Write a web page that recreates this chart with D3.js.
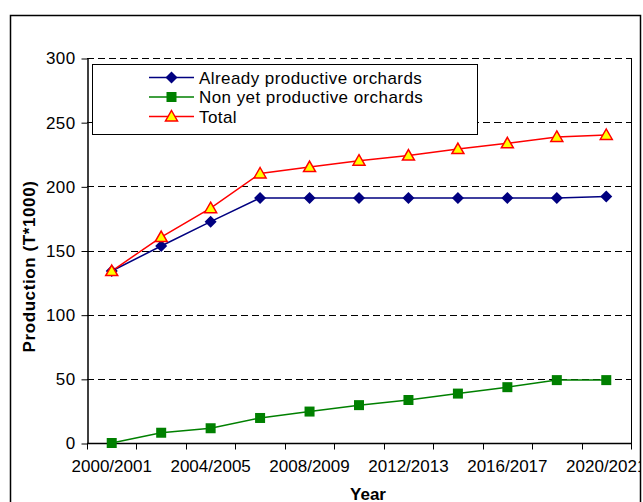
<!DOCTYPE html>
<html>
<head>
<meta charset="utf-8">
<script src="https://cdn.jsdelivr.net/npm/d3@7"></script>
<style>
  html, body { margin: 0; padding: 0; background: #fff; }
  svg { display: block; font-family: "Liberation Sans", Arial, sans-serif; }
</style>
</head>
<body>
<svg id="chart" width="643" height="502"></svg>
<script>
// Seasons on the category axis
const seasons = ["2000/2001", "2002/2003", "2004/2005", "2006/2007", "2008/2009", "2010/2011",
                 "2012/2013", "2014/2015", "2016/2017", "2018/2019", "2020/2021"];
// Production in thousands of tonnes
const alreadyProductive = [134, 153.5, 172.5, 191, 191, 191, 191, 191, 191, 191, 192];
const nonYetProductive  = [0, 8, 11.5, 19.5, 24.5, 29.5, 33.5, 38.5, 43.5, 49, 49];
const total             = [134, 160.5, 183, 210, 215, 220, 224, 229, 233.5, 238.5, 240];
const yTicks = [0, 50, 100, 150, 200, 250, 300];
const xLabelSeasons = ["2000/2001", "2004/2005", "2008/2009", "2012/2013", "2016/2017", "2020/2021"];
const seriesNames = ["Already productive orchards", "Non yet productive orchards", "Total"];

const svg = d3.select("#chart");
const plot = { left: 87, right: 631, top: 58, bottom: 443 };

// chart frame clipping
svg.append("defs").append("clipPath").attr("id", "frame")
  .append("rect").attr("x", 11).attr("y", 15).attr("width", 629.5).attr("height", 500);
const root = svg.append("g").attr("clip-path", "url(#frame)");

const x = d3.scaleBand().domain(seasons).range([plot.left, plot.right]).padding(0);
const xc = d => x(d) + x.bandwidth() / 2;
const y = d3.scaleLinear().domain([0, 300]).range([plot.bottom, plot.top]);

// dashed gridlines
root.append("g").selectAll("line").data(yTicks.filter(v => v > 0)).join("line")
  .attr("x1", plot.left).attr("x2", plot.right)
  .attr("y1", d => Math.round(y(d)) + 0.5).attr("y2", d => Math.round(y(d)) + 0.5)
  .attr("stroke", "#000").attr("stroke-width", 1).attr("stroke-dasharray", "7,4");

// right border of plot area
root.append("line")
  .attr("x1", plot.right + 0.5).attr("x2", plot.right + 0.5)
  .attr("y1", plot.top).attr("y2", plot.bottom)
  .attr("stroke", "#000").attr("stroke-width", 1);

// y axis
const yAxis = root.append("g").attr("transform", `translate(${plot.left + 0.5},0.5)`)
  .call(d3.axisLeft(y).tickValues(yTicks).tickSize(6).tickPadding(6).tickSizeOuter(0));
yAxis.select(".domain").attr("stroke", "#000").attr("stroke-width", 1.5);
yAxis.selectAll("text").attr("font-size", 17).attr("fill", "#000")
  .attr("letter-spacing", "0.4px")
  .attr("font-family", "'Liberation Sans', Arial, sans-serif");

// x axis: ticks at category boundaries
const xAxisG = root.append("g").attr("transform", `translate(0,${plot.bottom + 0.5})`);
xAxisG.append("line").attr("x1", plot.left).attr("x2", plot.right + 1)
  .attr("stroke", "#000").attr("stroke-width", 1.5);
const boundaries = seasons.map(s => x(s)).concat([plot.right]);
xAxisG.selectAll("line.tick").data(boundaries).join("line").attr("class", "tick")
  .attr("x1", d => Math.round(d) + 0.5).attr("x2", d => Math.round(d) + 0.5)
  .attr("y1", 0).attr("y2", 6).attr("stroke", "#000");
xAxisG.selectAll("text").data(xLabelSeasons).join("text")
  .attr("x", d => xc(d)).attr("y", 28).attr("text-anchor", "middle")
  .attr("font-size", 17).attr("fill", "#000").text(d => d);

// axis titles
root.append("text").attr("transform", `translate(35,266.5) rotate(-90)`)
  .attr("text-anchor", "middle").attr("font-size", 17).attr("font-weight", "bold")
  .attr("letter-spacing", "0.6px")
  .text("Production (T*1000)");
root.append("text").attr("x", 368).attr("y", 500).attr("text-anchor", "middle")
  .attr("font-size", 17).attr("font-weight", "bold").text("Year");

// series
const series = [
  { name: seriesNames[0], values: alreadyProductive, color: "#000080", marker: "diamond" },
  { name: seriesNames[1], values: nonYetProductive, color: "#008000", marker: "square" },
  { name: seriesNames[2], values: total, color: "#ff0000", marker: "triangle" }
];

function drawMarker(g, type, color) {
  if (type === "diamond") {
    g.append("path").attr("d", "M0,-6L6,0L0,6L-6,0Z").attr("fill", color);
  } else if (type === "square") {
    g.append("rect").attr("x", -5).attr("y", -5).attr("width", 10).attr("height", 10).attr("fill", color);
  } else {
    g.append("path").attr("d", "M0,-6L6,4.5L-6,4.5Z")
      .attr("fill", "#ffff00").attr("stroke", "#ff0000").attr("stroke-width", 1.5)
      .attr("stroke-linejoin", "miter");
  }
}

const line = d3.line().x((d, i) => xc(seasons[i])).y(d => y(d));
series.forEach(s => {
  root.append("path").datum(s.values).attr("d", line)
    .attr("fill", "none").attr("stroke", s.color).attr("stroke-width", 1.5);
});
series.forEach(s => {
  s.values.forEach((v, i) => {
    const g = root.append("g").attr("transform", `translate(${xc(seasons[i])},${y(v)})`);
    drawMarker(g, s.marker, s.color);
  });
});

// legend
const legend = root.append("g");
legend.append("rect").attr("x", 92.5).attr("y", 64.5).attr("width", 385).attr("height", 70)
  .attr("fill", "#fff").attr("stroke", "#000").attr("stroke-width", 1);
series.forEach((s, i) => {
  const ly = 77.5 + i * 19.5;
  legend.append("line").attr("x1", 149).attr("x2", 194).attr("y1", ly).attr("y2", ly)
    .attr("stroke", s.color).attr("stroke-width", 1.5);
  const g = legend.append("g").attr("transform", `translate(171.5,${ly})`);
  drawMarker(g, s.marker, s.color);
  legend.append("text").attr("x", 199).attr("y", ly + 6).attr("font-size", 17)
    .attr("letter-spacing", "0.43px")
    .attr("fill", "#000").text(s.name);
});

// outer chart frame
svg.append("rect").attr("x", 10.5).attr("y", 15.5).attr("width", 630).attr("height", 500)
  .attr("fill", "none").attr("stroke", "#000").attr("stroke-width", 1.5);
</script>
</body>
</html>
